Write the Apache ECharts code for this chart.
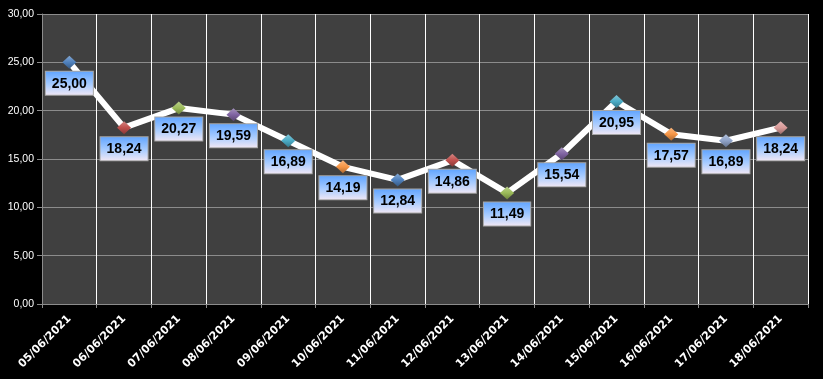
<!DOCTYPE html>
<html>
<head>
<meta charset="utf-8">
<script src="https://cdn.jsdelivr.net/npm/echarts@6/dist/echarts.min.js"></script>
<style>
html,body{margin:0;padding:0;background:#000;}
#c{width:823px;height:379px;}
</style>
</head>
<body>
<div id="c"></div>
<script>
var categories = ['05/06/2021','06/06/2021','07/06/2021','08/06/2021','09/06/2021','10/06/2021','11/06/2021','12/06/2021','13/06/2021','14/06/2021','15/06/2021','16/06/2021','17/06/2021','18/06/2021'];
var values = [25.00, 18.24, 20.27, 19.59, 16.89, 14.19, 12.84, 14.86, 11.49, 15.54, 20.95, 17.57, 16.89, 18.24];
var markerColors = ['#4F81BD','#C0504D','#9BBB59','#8064A2','#4BACC6','#F79646','#4F81BD','#C0504D','#9BBB59','#8064A2','#4BACC6','#F79646','#8FA3C8','#D99A98'];
var yTicks = [0, 5, 10, 15, 20, 25, 30];

function shade(hex, f) {
  var n = parseInt(hex.slice(1), 16);
  var r = (n >> 16) & 255, g = (n >> 8) & 255, b = n & 255;
  function adj(c){ return Math.max(0, Math.min(255, Math.round(f > 0 ? c + (255 - c) * f : c * (1 + f)))); }
  return 'rgb(' + adj(r) + ',' + adj(g) + ',' + adj(b) + ')';
}
function fmt(v){ return v.toFixed(2).replace('.', ','); }

var chart = echarts.init(document.getElementById('c'));
var labelBg = new echarts.graphic.LinearGradient(0, 0, 0, 1, [
  {offset: 0, color: '#5ea3ff'},
  {offset: 0.55, color: '#a8ccff'},
  {offset: 1, color: '#f3e8f4'}
]);
var data = values.map(function(v, i){
  var c = markerColors[i];
  return {
    value: v,
    itemStyle: {
      color: new echarts.graphic.LinearGradient(0, 0, 0, 1, [
        {offset: 0, color: shade(c, 0.3)},
        {offset: 0.5, color: c},
        {offset: 1, color: shade(c, -0.3)}
      ]),
      borderWidth: 0
    }
  };
});

chart.setOption({
  backgroundColor: '#000000',
  animation: false,
  grid: {
    left: 42, right: 15, top: 14, bottom: 75,
    show: true, backgroundColor: '#404040', borderWidth: 0
  },
  xAxis: {
    type: 'category',
    data: categories,
    boundaryGap: true,
    axisLine: {show: true, lineStyle: {color: '#8c8c8c', width: 1}},
    axisTick: {show: true, length: 4, interval: 0, lineStyle: {color: '#8c8c8c'}},
    splitLine: {show: true, interval: 0, lineStyle: {color: '#ffffff', width: 1}},
    axisLabel: {
      interval: 0, rotate: 45, margin: 13,
      color: '#ffffff', fontFamily: 'DejaVu Sans', fontWeight: 'bold', fontSize: 11
    }
  },
  yAxis: {
    type: 'value',
    min: 0, max: 30, interval: 5,
    axisLine: {show: true, lineStyle: {color: '#8c8c8c', width: 1}},
    axisTick: {show: true, length: 5, lineStyle: {color: '#8c8c8c'}},
    splitLine: {show: true, lineStyle: {color: '#8c8c8c', width: 1}},
    axisLabel: {
      margin: 8, color: '#ffffff', fontFamily: 'Liberation Sans', fontSize: 10.5,
      formatter: function(v){ return fmt(v); }
    }
  },
  series: [{
    type: 'line',
    data: data,
    symbol: 'diamond',
    symbolSize: [14, 13],
    lineStyle: {color: '#ffffff', width: 6},
    label: {
      show: true,
      position: 'bottom',
      distance: 3,
      formatter: function(p){ return fmt(p.value); },
      color: '#000000',
      fontFamily: 'Liberation Sans',
      fontWeight: 'bold',
      fontSize: 14,
      lineHeight: 16,
      padding: [4, 6, 3, 6],
      backgroundColor: labelBg,
      borderColor: '#a6a6a6',
      borderWidth: 1
    },
    z: 3
  }]
});
</script>
</body>
</html>
